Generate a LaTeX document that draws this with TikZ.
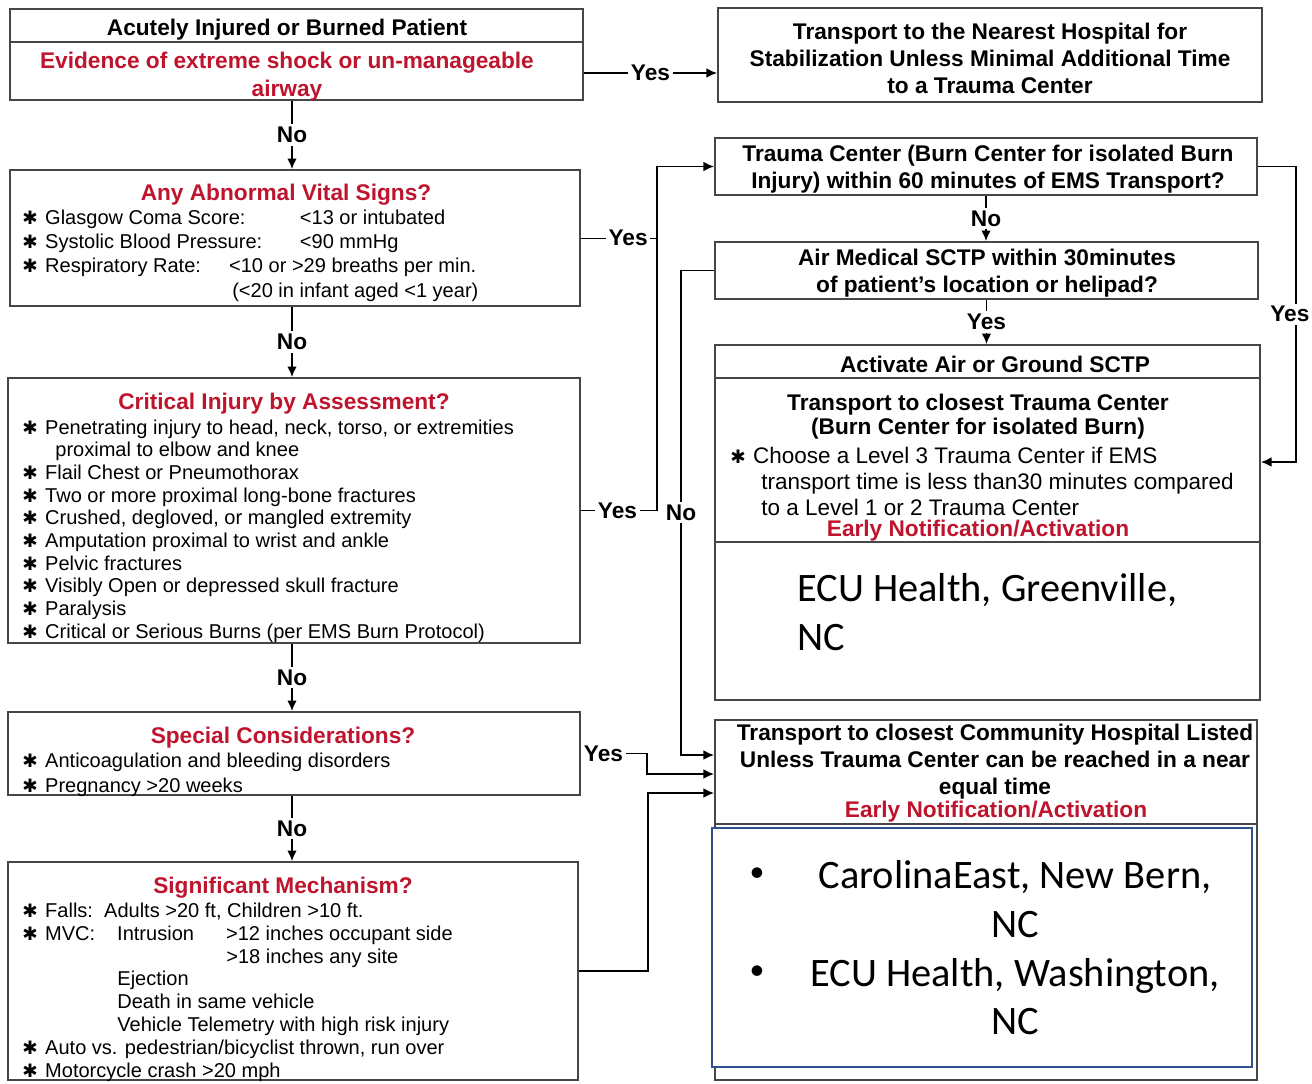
\documentclass[tikz,border=0pt]{standalone}
\usepackage{fontspec}
\setmainfont{Liberation Sans}
\newfontfamily\calfont{Carlito}
\newfontfamily\symfont{DejaVu Sans}
\usetikzlibrary{arrows.meta,fit}
\definecolor{boxgray}{RGB}{70,70,70}
\definecolor{flowred}{RGB}{190,20,45}
\definecolor{listblue}{RGB}{47,82,143}
\newcommand{\itm}{\makebox[13pt][l]{\symfont\fontsize{10.5}{10}\selectfont ✱}}

\begin{document}
\begin{tikzpicture}[x=0.02cm,y=-0.02cm]
  \tikzset{ box/.style={draw=boxgray,line width=1.1pt,inner sep=0pt},
    ttl/.style={font=\fontsize{12.9}{15.4}\selectfont\bfseries,align=center,yshift=-1.2pt},
    redttl/.style={ttl,text=flowred},
    lst/.style={font=\fontsize{11.4}{13}\selectfont,align=left,anchor=west,inner sep=0pt,yshift=-1.2pt},
    lbl/.style={fill=white,font=\fontsize{12.9}{15}\selectfont\bfseries,inner sep=1.5pt},
    arr/.style={line width=0.9pt,-{Latex[length=6pt,width=5.5pt]}},
    cal/.style={font=\calfont\fontsize{23}{27.6}\selectfont,inner sep=0pt},
  }
  \useasboundingbox (0,0) rectangle (1312,1083);

  % left column
  \node[box, fit={(10,9) (583,100)}]    (acute)   {};
  \node[box, fit={(10,170) (580,306)}]  (vital)   {};
  \node[box, fit={(8,378) (580,643)}]   (crit)    {};
  \node[box, fit={(8,712) (580,795)}]   (special) {};
  \node[box, fit={(8,862) (578,1080)}]  (sig)     {};
  \draw[boxgray,line width=1.1pt] (10,42) -- (583,42);

  \node[ttl]    (acutettl) at (287,28)   {Acutely Injured or Burned Patient};
  \node[redttl] (shock)    at (287,74.5) {Evidence of extreme shock or un-manageable\\airway};
  \node[redttl] (vitalttl) at (286,193)  {Any Abnormal Vital Signs?};
  \node[redttl] (critttl)  at (284,402)  {Critical Injury by Assessment?};
  \node[redttl] (specttl)  at (283,736)  {Special Considerations?};
  \node[redttl] (sigttl)   at (283,886)  {Significant Mechanism?};

  \node[lst, font=\fontsize{11.4}{13.85}\selectfont] (vitallst) at (22,253.5)
    {\itm\makebox[145pt][l]{Glasgow Coma Score:}<13 or intubated\\
     \itm\makebox[145pt][l]{Systolic Blood Pressure:}<90 mmHg\\
     \itm\makebox[104.7pt][l]{Respiratory Rate:}<10 or >29 breaths per min.\\
     \hspace*{119.5pt}(<20 in infant aged <1 year)};
  \node[lst, font=\fontsize{11.4}{12.9}\selectfont] (critlst) at (22,529)
    {\itm Penetrating injury to head, neck, torso, or extremities\\
     \hspace*{18.8pt}proximal to elbow and knee\\
     \itm Flail Chest or Pneumothorax\\
     \itm Two or more proximal long-bone fractures\\
     \itm Crushed, degloved, or mangled extremity\\
     \itm Amputation proximal to wrist and ankle\\
     \itm Pelvic fractures\\
     \itm Visibly Open or depressed skull fracture\\
     \itm Paralysis\\
     \itm Critical or Serious Burns (per EMS Burn Protocol)};
  \node[lst, font=\fontsize{11.4}{14.2}\selectfont] (speclst) at (22,772.5)
    {\itm Anticoagulation and bleeding disorders\\
     \itm Pregnancy >20 weeks};
  \node[lst] (siglst) at (22,990)
    {\itm Falls:\ \ Adults >20 ft, Children >10 ft.\\
     \itm\makebox[41pt][l]{MVC:}\makebox[62pt][l]{Intrusion}>12 inches occupant side\\
     \hspace*{116.1pt}>18 inches any site\\
     \hspace*{54.1pt}Ejection\\
     \hspace*{54.1pt}Death in same vehicle\\
     \hspace*{54.1pt}Vehicle Telemetry with high risk injury\\
     \itm Auto vs. pedestrian/bicyclist thrown, run over\\
     \itm Motorcycle crash >20 mph};

  % right column
  \node[box, fit={(718,8) (1262,102)}]   (nearest) {};
  \node[box, fit={(715,138) (1257,195)}] (tc60)    {};
  \node[box, fit={(715,242) (1258,299)}] (air)     {};
  \node[box, fit={(715,345) (1260,700)}] (activ)   {};
  \node[box, fit={(715,720) (1257,1080)}] (comm)   {};
  \draw[boxgray,line width=1.1pt] (715,378) -- (1260,378);
  \draw[boxgray,line width=1.1pt] (715,542) -- (1260,542);
  \draw[boxgray,line width=1.1pt] (715,824) -- (1257,824);

  \node[ttl] (nearestttl) at (990,56.5)
    {Transport to the Nearest Hospital for\\Stabilization Unless Minimal Additional Time\\to a Trauma Center};
  \node[ttl, font=\fontsize{12.9}{15.9}\selectfont\bfseries] (tc60ttl) at (988,167)
    {Trauma Center (Burn Center for isolated Burn\\Injury) within 60 minutes of EMS Transport?};
  \node[ttl, font=\fontsize{12.9}{15.9}\selectfont\bfseries] (airttl) at (987,271)
    {Air Medical SCTP within 30minutes\\of patient's location or helipad?};
  \node[ttl] (activttl) at (995,362) {Activate Air or Ground SCTP};
  \node[ttl, font=\fontsize{12.9}{14.2}\selectfont\bfseries] (tcttl) at (978,414.5)
    {Transport to closest Trauma Center\\(Burn Center for isolated Burn)};
  \node[lst, font=\fontsize{12.8}{14.8}\selectfont] (activlst) at (730,479)
    {\itm Choose a Level 3 Trauma Center if EMS\\
     \hspace*{17.6pt}transport time is less than30 minutes compared\\
     \hspace*{17.6pt}to a Level 1 or 2 Trauma Center};
  \node[redttl] (activnote) at (978,529) {Early Notification/Activation};
  \node[cal, align=left, anchor=west] (greenville) at (797,612) {ECU Health, Greenville,\\NC};

  \node[ttl, font=\fontsize{12.9}{15.1}\selectfont\bfseries] (commttl) at (995,759.5)
    {Transport to closest Community Hospital Listed\\Unless Trauma Center can be reached in a near\\equal time};
  \node[redttl] (commnote) at (996,810) {Early Notification/Activation};

  \node[draw=listblue, line width=1pt, fill=white, inner sep=0pt, fit={(712,828) (1252,1067)}] (hosplist) {};
  \node[cal, align=center, font=\calfont\fontsize{23}{27.7}\selectfont] (hosptxt) at (1015,948)
    {CarolinaEast, New Bern,\\NC\\ECU Health, Washington,\\NC};
  \node[cal, font=\calfont\fontsize{17}{17}\selectfont] (bul1) at (757,875) {•};
  \node[cal, font=\calfont\fontsize{17}{17}\selectfont] (bul2) at (757,973) {•};

  % the connection between the boxes
  \coordinate (spine) at (292,0);
  \draw[arr] (acute.south -| spine)   -- node[lbl]{No} (vital.north -| spine);
  \draw[arr] (vital.south -| spine)   -- node[lbl]{No} (crit.north -| spine);
  \draw[arr] (crit.south -| spine)    -- node[lbl]{No} (special.north -| spine);
  \draw[arr] (special.south -| spine) -- node[lbl]{No} (sig.north -| spine);

  \coordinate (yesA) at (583,73);
  \draw[arr] (acute.east |- yesA) -- node[lbl]{Yes} (yesA -| nearest.west);

  \coordinate (yesbus) at (657,0);
  \draw (vital.east) -- node[lbl,pos=0.62]{Yes} (vital.east -| yesbus);
  \draw[arr] (crit.east) -- node[lbl,pos=0.48]{Yes} (crit.east -| yesbus) |- (tc60.west);

  \coordinate (noair) at (681,755);
  \draw[arr] (air.west) -| node[lbl,pos=0.75]{No} (noair) -- (noair -| comm.west);

  \coordinate (yesD) at (647,774);
  \draw[arr] (special.east) -- node[lbl,pos=0.34]{Yes} (special.east -| yesD) |- (comm.west |- yesD);

  \coordinate (mechE) at (648,793);
  \draw[arr] (sig.east) -| (mechE) -- (mechE -| comm.west);

  \draw[arr] (tc60.south) -- node[lbl]{No} (tc60.south |- air.north);
  \draw[arr] (air.south) -- node[lbl]{Yes} (air.south |- activ.north);

  \coordinate (yesR) at (1296,462);
  \draw[arr] (tc60.east) -| node[lbl,pos=0.75,xshift=-3.5pt]{Yes} (yesR) -- (yesR -| activ.east);
\end{tikzpicture}
\end{document}
